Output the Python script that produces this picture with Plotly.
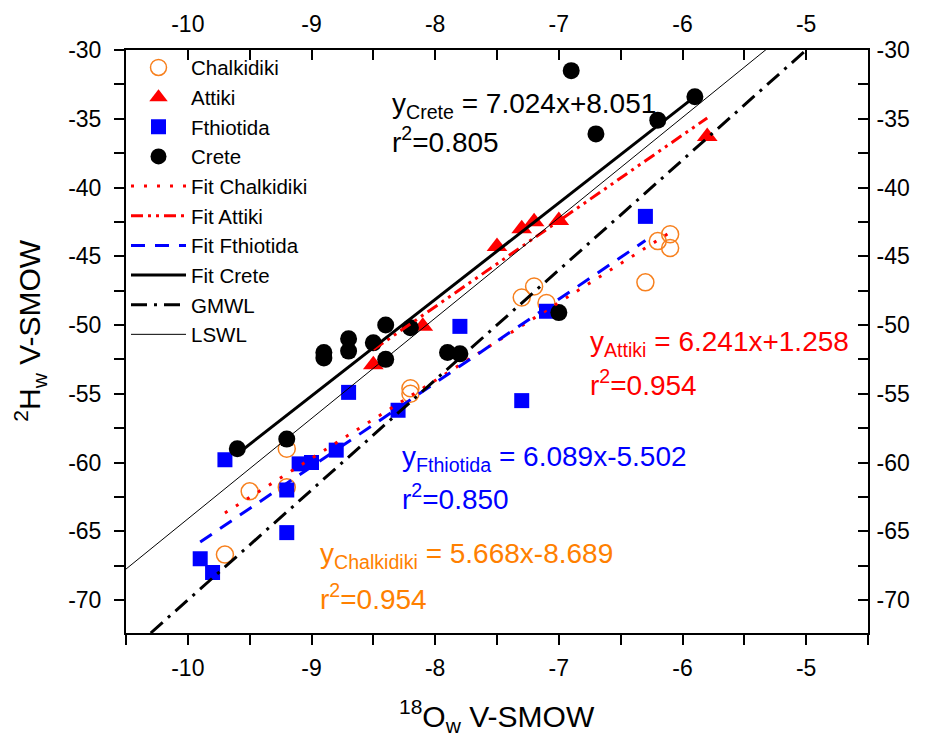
import plotly.graph_objects as go
import numpy as np

# ---- data ----
chal_x = [-9.7, -9.5, -9.2, -9.2, -8.2, -8.2, -7.3, -7.2, -7.1, -6.3, -6.2, -6.1, -6.1]
chal_y = [-66.7, -62.1, -59.0, -61.8, -54.6, -55.0, -48.0, -47.2, -48.4, -46.9, -43.9, -43.4, -44.4]

att_x = [-8.5, -8.1, -7.5, -7.3, -7.2, -7.0, -5.8]
att_y = [-52.9, -50.1, -44.3, -43.0, -42.5, -42.4, -36.3]

fth_x = [-9.9, -9.8, -9.7, -9.2, -9.2, -9.1, -9.0, -8.8, -8.7, -8.3, -7.8, -7.3, -7.1, -6.3]
fth_y = [-67.0, -68.0, -59.8, -62.0, -65.1, -60.1, -60.0, -59.1, -54.9, -56.2, -50.1, -55.5, -49.0, -42.1]

cre_x = [-9.6, -9.2, -8.9, -8.9, -8.7, -8.7, -8.5, -8.4, -8.4, -8.2, -7.9, -7.8, -7.0, -6.9, -6.7, -6.2, -5.9]
cre_y = [-59.0, -58.3, -52.0, -52.4, -51.0, -51.9, -51.3, -50.0, -52.5, -50.2, -52.0, -52.1, -49.1, -31.5, -36.1, -35.1, -33.4]

# regression coefficients (slope, intercept) as printed on the chart
fit_chal = (5.668, -8.689)
fit_att = (6.241, 1.258)
fit_fth = (6.089, -5.502)
fit_cre = (7.024, 8.051)
gmwl = (8.0, 10.0)
lswl = (7.3, 8.9)

x_tickvals = [-10, -9, -8, -7, -6, -5]
x_ticktext = ["-10", "-9", "-8", "-7", "-6", "-5"]
y_tickvals = [-30, -35, -40, -45, -50, -55, -60, -65, -70]
y_ticktext = ["-30", "-35", "-40", "-45", "-50", "-55", "-60", "-65", "-70"]

ORANGE = "#F7801E"
ORANGE_TXT = "#FF8000"
RED = "#FF0000"
BLUE = "#0000FF"
BLACK = "#000000"

fig = go.Figure()

lg = 0
def add(trace):
    global lg
    lg += 1
    trace.legendgroup = "g%d" % lg
    fig.add_trace(trace)

add(go.Scatter(x=chal_x, y=chal_y, mode="markers", name="Chalkidiki",
               marker=dict(symbol="circle-open", size=17, color=ORANGE, line=dict(width=1.5, color=ORANGE))))
add(go.Scatter(x=att_x, y=att_y, mode="markers", name="Attiki",
               marker=dict(symbol="triangle-up", size=18, color=RED, line=dict(width=0))))
add(go.Scatter(x=fth_x, y=fth_y, mode="markers", name="Fthiotida",
               marker=dict(symbol="square", size=15, color=BLUE, line=dict(width=0))))
add(go.Scatter(x=cre_x, y=cre_y, mode="markers", name="Crete",
               marker=dict(symbol="circle", size=17, color=BLACK, line=dict(width=0))))

def fitline(xs, coef):
    xx = np.array([min(xs), max(xs)])
    return xx, coef[0] * xx + coef[1]

xx, yy = fitline(chal_x, fit_chal)
add(go.Scatter(x=xx, y=yy, mode="lines", name="Fit Chalkidiki",
               line=dict(color=RED, width=3, dash="3px,10px")))
xx, yy = fitline(att_x, fit_att)
add(go.Scatter(x=xx, y=yy, mode="lines", name="Fit Attiki",
               line=dict(color=RED, width=3, dash="12px,5px,3px,5px,3px,5px")))
xx, yy = fitline(fth_x, fit_fth)
add(go.Scatter(x=xx, y=yy, mode="lines", name="Fit Fthiotida",
               line=dict(color=BLUE, width=3, dash="14px,10px")))
xx, yy = fitline(cre_x, fit_cre)
add(go.Scatter(x=xx, y=yy, mode="lines", name="Fit Crete",
               line=dict(color=BLACK, width=3)))
gx = np.array([-10.3, -5.0])
add(go.Scatter(x=gx, y=gmwl[0] * gx + gmwl[1], mode="lines", name="GMWL",
               line=dict(color=BLACK, width=3, dash="16px,7px,3px,7px")))
lx = np.array([-10.5, -5.0])
add(go.Scatter(x=lx, y=lswl[0] * lx + lswl[1], mode="lines", name="LSWL",
               line=dict(color=BLACK, width=1)))

FAM = "Liberation Sans, Arial"
TICKFONT = dict(family=FAM, size=23, color="black")
XR = [-10.5, -4.5]
YR = [-72.4, -30]

def axis(kind, side, ticks, **kw):
    d = dict(showline=True, linecolor="black", linewidth=2, ticks=ticks, ticklen=10,
             tickwidth=2, tickcolor="black", showgrid=False, zeroline=False, tickfont=TICKFONT,
             automargin=False, side=side)
    if kind == "x":
        d.update(range=XR, tickmode="array", tickvals=x_tickvals, ticktext=x_ticktext,
                 minor=dict(dtick=0.5, tick0=-10, ticklen=10, tickwidth=2, tickcolor="black", ticks=ticks))
    else:
        d.update(range=YR, tickmode="array", tickvals=y_tickvals, ticktext=y_ticktext,
                 minor=dict(dtick=2.5, tick0=-30, ticklen=10, tickwidth=2, tickcolor="black", ticks=ticks))
    d.update(kw)
    return d

# page body has an 8px margin: the figure is sized/margined so the plot area lands
# at x 126..868, y 49.5..633 in the 926x745 window
fig.update_layout(
    width=910, height=729,
    paper_bgcolor="white", plot_bgcolor="white",
    margin=dict(l=118, r=50, t=41.5, b=103.7),
    font=dict(family=FAM, color="black"),
    xaxis=axis("x", "bottom", "outside", ticklabelstandoff=3),
    yaxis=axis("y", "left", "outside", ticklabelstandoff=8),
    xaxis2=axis("x", "top", "inside", overlaying="x", anchor="y", ticklabelstandoff=7),
    yaxis2=axis("y", "right", "inside", overlaying="y", anchor="x", ticklabelstandoff=2),
    legend=dict(x=0.0, y=1.004, xanchor="left", yanchor="top", bgcolor="rgba(0,0,0,0)",
                font=dict(family=FAM, size=20.5, color="black"),
                traceorder="grouped", tracegroupgap=0, itemwidth=55),
    showlegend=True,
)

# invisible trace to activate the mirror axes
fig.add_trace(go.Scatter(x=[XR[0]], y=[YR[0]], xaxis="x2", yaxis="y2", mode="markers",
                         marker=dict(opacity=0), showlegend=False, hoverinfo="skip"))

# axis titles
fig.add_annotation(x=0.5, y=-0.143, xref="paper", yref="paper", xanchor="center", yanchor="middle",
                   text="<sup>18</sup>O<sub>w</sub> V-SMOW", showarrow=False,
                   font=dict(family=FAM, size=30, color="black"))
fig.add_annotation(x=-0.129, y=0.519, xref="paper", yref="paper", xanchor="center", yanchor="middle",
                   text="<sup>2</sup>H<sub>w</sub> V-SMOW", showarrow=False, textangle=-90,
                   font=dict(family=FAM, size=30, color="black"))

AFONT = 28
ann = [
    (-8.366, -34.03, "y<sub>Crete</sub> = 7.024x+8.051", BLACK),
    (-8.366, -36.58, "r<sup>2</sup>=0.805", BLACK),
    (-6.766, -51.33, "y<sub>Attiki</sub> = 6.241x+1.258", RED),
    (-6.766, -54.24, "r<sup>2</sup>=0.954", RED),
    (-8.285, -59.69, "y<sub>Fthiotida</sub> = 6.089x-5.502", BLUE),
    (-8.285, -62.52, "r<sup>2</sup>=0.850", BLUE),
    (-8.947, -66.74, "y<sub>Chalkidiki</sub> = 5.668x-8.689", ORANGE_TXT),
    (-8.947, -69.79, "r<sup>2</sup>=0.954", ORANGE_TXT),
]
for x, y, t, c in ann:
    fig.add_annotation(x=x, y=y, xref="x", yref="y", text=t, showarrow=False,
                       xanchor="left", yanchor="middle",
                       font=dict(family=FAM, size=AFONT, color=c))

fig.write_html("out.html")
